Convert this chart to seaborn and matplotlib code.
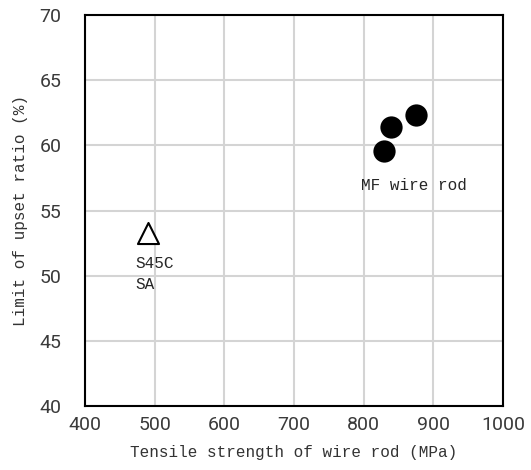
import matplotlib
matplotlib.use("Agg")
import matplotlib.pyplot as plt
import seaborn as sns
import pandas as pd

# data
mf_strength = [829, 840, 876]
mf_ratio = [59.6, 61.4, 62.3]
s45c_strength = [490]
s45c_ratio = [53.3]

x_ticks = [400, 500, 600, 700, 800, 900, 1000]
y_ticks = [40, 45, 50, 55, 60, 65, 70]

sns.set_style("white")
mono = ["Liberation Mono", "DejaVu Sans Mono"]
narrow = ["Liberation Sans Narrow", "Roboto", "DejaVu Sans"]

fig, ax = plt.subplots(figsize=(5.31, 4.70), dpi=100)
fig.subplots_adjust(left=0.16, right=0.947, top=0.968, bottom=0.136)

mf = pd.DataFrame({"x": mf_strength, "y": mf_ratio})
sa = pd.DataFrame({"x": s45c_strength, "y": s45c_ratio})

sns.scatterplot(data=mf, x="x", y="y", ax=ax, color="black", s=220,
                edgecolor="black", zorder=3)
sns.scatterplot(data=sa, x="x", y="y", ax=ax, marker="^", s=230,
                facecolor="white", edgecolor="black", linewidth=1.5, zorder=3)

ax.text(473, 51.5, "S45C\nSA", family=mono, fontsize=11.5, va="top",
        ha="left", linespacing=1.45)
ax.text(796, 56.9, "MF wire rod", family=mono, fontsize=11.5, va="center",
        ha="left")

ax.set_xlim(400, 1000)
ax.set_ylim(40, 70)
ax.set_xticks(x_ticks)
ax.set_yticks(y_ticks)
ax.grid(True, color="#d4d4d4", linewidth=1.5)
ax.set_axisbelow(True)
for sp in ax.spines.values():
    sp.set_color("black")
    sp.set_linewidth(1.5)
ax.tick_params(length=0, labelsize=14, labelcolor="#3a3a3a")
ax.tick_params(axis="x", pad=7)
ax.tick_params(axis="y", pad=17)
for lab in ax.get_xticklabels() + ax.get_yticklabels():
    lab.set_family(narrow)

ax.set_xlabel("Tensile strength of wire rod (MPa)", family=mono,
              fontsize=11.5, color="#333333", labelpad=8)
ax.set_ylabel("Limit of upset ratio (%)", family=mono, fontsize=11.5,
              color="#333333", labelpad=8)

fig.savefig("out.png", dpi=100)
